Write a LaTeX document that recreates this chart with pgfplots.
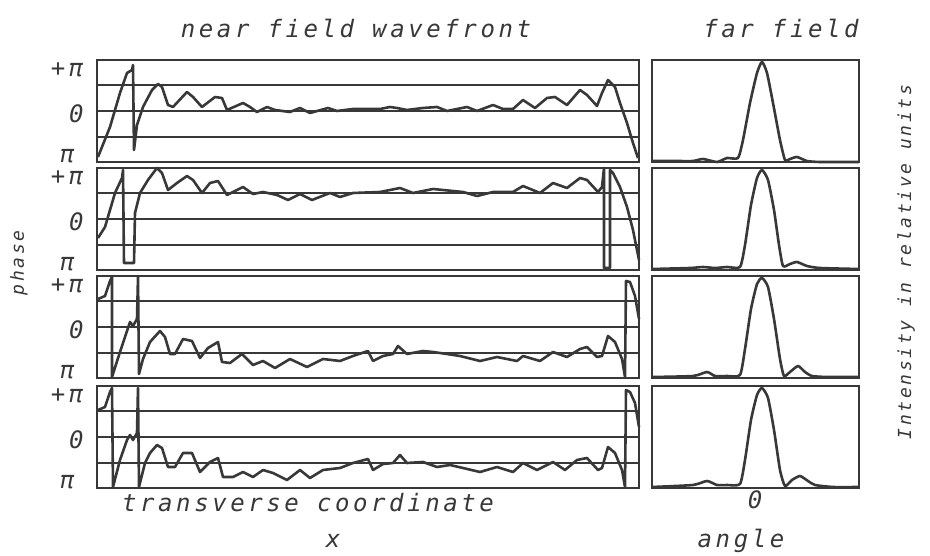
\documentclass[border=0pt]{standalone}
\usepackage{fontspec}
\usepackage{pgfplots}
\pgfplotsset{compat=1.18}
\newfontfamily\plotfont[LetterSpace=15]{DejaVu Sans Mono}
\definecolor{fg}{HTML}{383838}
\newcommand{\bigfnt}{\plotfont\itshape\fontsize{24}{28}\selectfont}
\newcommand{\midfnt}{\plotfont\itshape\fontsize{18}{22}\selectfont}
\pgfplotsset{
  common/.style={scale only axis, axis line style={line width=2.2pt, draw=fg},
    xtick=\empty, tick style={draw=none}, major tick length=0pt, clip=false},
  left/.style={common, width=542pt, xmin=0, xmax=542, ymin=-51, ymax=51,
    ytick={-45,-3,41}, yticklabels={π\hspace*{9pt},0,+π},
    yticklabel style={font=\bigfnt, text=fg, anchor=east, xshift=-10pt},
    extra y ticks={-26,0,26}, extra y tick labels={},
    extra y tick style={grid=major, major grid style={line width=1.8pt, draw=fg}}},
  right/.style={common, width=207pt, xmin=-105, xmax=102, ymin=0, ymax=102, ytick=\empty},
  curve/.style={line width=2.6pt, color=fg, line join=round},
  scurve/.style={curve, smooth, tension=0.35}
}
\begin{document}
\begin{tikzpicture}
\path[use as bounding box] (0,0) rectangle (930pt,555pt);
% ---------- near field, panel 1
\begin{axis}[left, height=102pt, at={(97pt,393pt)}, anchor=south west]
\addplot[curve] coordinates {
(1,-46)(13,-16)(23,18)(30,38)(35,41)(36,46)(37,-39)(40,-14)(46,4)(55,21)(61,27)(65,24)
(71,6)(76,4)(90,19)(96,14)(105,4)(118,14)(125,13)(130,1)(146,8)(153,4)(160,-1)(170,4)
(178,1)(193,-1)(203,3)(213,-2)(231,3)(240,0)(256,2)(283,2)(293,4)(300,3)(310,1)(326,3)
(340,4)(350,0)(370,4)(380,0)(396,6)(406,2)(416,2)(426,11)(438,3)(450,13)(458,14)(470,6)
(483,21)(490,16)(500,5)(505,18)(511,31)(518,24)(523,8)(530,-12)(536,-32)(541,-47)};
\end{axis}
% ---------- panel 2
\begin{axis}[left, height=102pt, at={(97pt,285pt)}, anchor=south west]
\addplot[curve] coordinates {
(1,-19)(8,-8)(18,26)(25,41)(26,49)(27,-44)(36,-44)(37,-44)(38,6)(43,26)(51,39)(60,51)
(65,46)(71,29)(80,36)(90,43)(96,39)(105,26)(113,36)(121,38)(130,24)(146,32)(156,25)
(166,27)(180,24)(191,19)(203,25)(215,19)(233,26)(243,22)(256,26)(283,27)(303,31)(316,26)
(336,30)(366,27)(380,23)(396,27)(416,27)(426,33)(443,26)(456,36)(470,31)(483,41)(490,39)
(501,27)(505,32)(507,51)(507,-49)(513,-49)(513,49)(516,46)(523,32)(530,12)(536,-11)(542,-41)};
\end{axis}
% ---------- panel 3
\begin{axis}[left, height=102pt, at={(97pt,177pt)}, anchor=south west]
\addplot[curve] coordinates {
(1,28)(8,31)(13,46)(15,50)(15,-50)(23,-25)(30,-4)(33,5)(36,1)(40,8)(41,50)(42,-47)
(46,-32)(53,-15)(63,-4)(68,-10)(73,-27)(78,-27)(86,-12)(95,-14)(103,-31)(111,-21)
(121,-15)(125,-35)(133,-36)(145,-27)(156,-38)(166,-34)(178,-41)(193,-32)(210,-40)
(226,-32)(243,-34)(256,-29)(271,-24)(276,-34)(286,-29)(296,-27)(301,-19)(310,-27)
(326,-24)(336,-25)(350,-27)(363,-29)(383,-34)(400,-30)(420,-34)(426,-29)(443,-34)
(456,-25)(470,-30)(483,-22)(490,-20)(500,-30)(505,-29)(511,-9)(518,-15)(525,-32)
(528,-50)(529,46)(533,45)(538,31)(542,8)};
\end{axis}
% ---------- panel 4
\begin{axis}[left, height=102pt, at={(97pt,67pt)}, anchor=south west]
\addplot[curve] coordinates {
(1,27)(8,30)(13,45)(15,49)(16,-50)(23,-23)(30,-3)(33,2)(36,-3)(40,4)(41,49)(42,-50)
(48,-26)(53,-16)(60,-8)(65,-11)(71,-30)(78,-30)(86,-16)(95,-16)(103,-35)(113,-25)
(121,-21)(126,-40)(136,-40)(146,-35)(156,-40)(166,-33)(176,-36)(190,-43)(203,-33)
(213,-41)(226,-33)(243,-31)(256,-26)(271,-22)(276,-33)(286,-27)(296,-26)(303,-18)
(310,-26)(326,-25)(340,-30)(353,-28)(366,-31)(383,-35)(400,-30)(416,-35)(426,-26)
(440,-33)(456,-25)(468,-33)(480,-23)(490,-21)(501,-33)(505,-31)(511,-10)(518,-16)
(525,-33)(528,-50)(529,47)(533,45)(538,34)(542,10)};
\end{axis}
% ---------- far field panels
\begin{axis}[right, height=102pt, at={(652pt,393pt)}, anchor=south west]
\addplot[scurve] coordinates {
(-105,1)(-82,1)(-64,1)(-54,3)(-40,0)(-30,4)(-19,4)(-14,22)(-7,59)(0,89)(5,100)(10,89)
(16,59)(23,22)(28,2)(33,3)(40,5)(50,1)(63,0)(102,0)};
\end{axis}
\begin{axis}[right, height=102pt, at={(652pt,285pt)}, anchor=south west]
\addplot[scurve] coordinates {
(-105,1)(-67,2)(-54,3)(-42,2)(-30,3)(-17,3)(-12,25)(-6,65)(0,92)(5,100)(11,90)(17,60)
(22,25)(26,4)(33,6)(40,8)(50,4)(63,2)(102,1)};
\end{axis}
\begin{axis}[right, height=102pt, at={(652pt,177pt)}, anchor=south west]
\addplot[scurve] coordinates {
(-105,1)(-64,2)(-50,6)(-42,2)(-30,2)(-17,3)(-12,29)(-6,69)(0,94)(5,100)(11,91)(17,59)
(23,19)(27,2)(33,6)(41,12)(48,6)(55,2)(70,1)(102,1)};
\end{axis}
\begin{axis}[right, height=102pt, at={(652pt,67pt)}, anchor=south west]
\addplot[scurve] coordinates {
(-105,1)(-64,3)(-50,7)(-40,3)(-30,3)(-17,4)(-12,28)(-6,68)(0,93)(5,100)(11,90)(17,58)
(23,18)(28,2)(35,8)(43,12)(51,7)(58,3)(76,1)(102,1)};
\end{axis}
% ---------- texts
\node[text=fg, font=\bigfnt] at (356pt,527pt) {near field wavefront};
\node[text=fg, font=\bigfnt] at (781pt,527pt) {far field};
\node[text=fg, font=\bigfnt] at (308pt,52pt) {transverse coordinate};
\node[text=fg, font=\bigfnt] at (333pt,14pt) {x};
\node[text=fg, font=\bigfnt] at (755pt,55pt) {0};
\node[text=fg, font=\bigfnt] at (741pt,14pt) {angle};
\node[text=fg, font=\midfnt, rotate=90] at (19pt,292pt) {phase};
\node[text=fg, font=\midfnt, rotate=90] at (906pt,293pt) {Intensity in relative units};
\end{tikzpicture}
\end{document}
